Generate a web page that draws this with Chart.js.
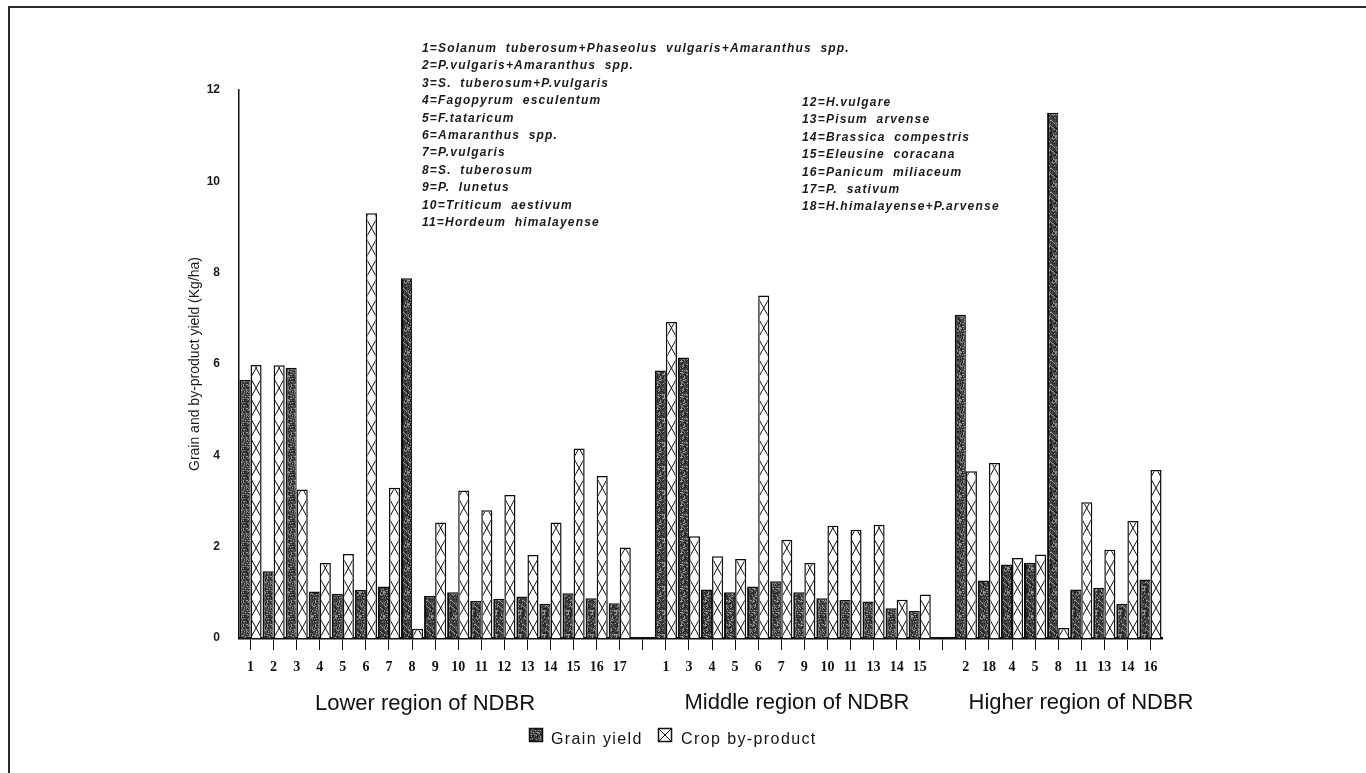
<!DOCTYPE html>
<html>
<head>
<meta charset="utf-8">
<title>Grain and by-product yield in NDBR</title>
<script src="https://cdn.jsdelivr.net/npm/chart.js@4.4.1/dist/chart.umd.min.js"></script>
<style>
  html, body { margin: 0; padding: 0; background: #fff; }
  canvas { display: block; }
</style>
</head>
<body>
<canvas id="chart" width="1366" height="773"></canvas>
<script>
// Crop codes shown under each bar pair, per altitude region
const lowerCrops  = ['1','2','3','4','5','6','7','8','9','10','11','12','13','14','15','16','17'];
const middleCrops = ['1','3','4','5','6','7','9','10','11','13','14','15'];
const higherCrops = ['2','18','4','5','8','11','13','14','16'];

// Grain yield per crop
const grainLower  = [5.65, 1.46, 5.92, 1.02, 0.97, 1.05, 1.13, 7.88, 0.92, 1.00, 0.81, 0.86, 0.91, 0.75, 0.98, 0.87, 0.76];
const grainMiddle = [5.86, 6.14, 1.06, 1.00, 1.13, 1.24, 1.00, 0.87, 0.83, 0.80, 0.65, 0.59];
const grainHigher = [7.08, 1.26, 1.61, 1.64, 11.5, 1.06, 1.10, 0.75, 1.28];

// Crop by-product per crop
const byLower  = [5.98, 5.97, 3.25, 1.64, 1.84, 9.30, 3.29, 0.20, 2.53, 3.23, 2.80, 3.13, 1.82, 2.53, 4.15, 3.55, 1.98];
const byMiddle = [6.92, 2.23, 1.79, 1.73, 7.50, 2.15, 1.64, 2.46, 2.37, 2.48, 0.84, 0.95];
const byHigher = [3.65, 3.83, 1.75, 1.83, 0.22, 2.97, 1.93, 2.56, 3.68];

// Y axis ticks
const yTicks = [0, 2, 4, 6, 8, 10, 12];

// Key to the crop codes
const keyLeft = [
  '1=Solanum tuberosum+Phaseolus vulgaris+Amaranthus spp.',
  '2=P.vulgaris+Amaranthus spp.',
  '3=S. tuberosum+P.vulgaris',
  '4=Fagopyrum esculentum',
  '5=F.tataricum',
  '6=Amaranthus spp.',
  '7=P.vulgaris',
  '8=S. tuberosum',
  '9=P. lunetus',
  '10=Triticum aestivum',
  '11=Hordeum himalayense'
];
const keyRight = [
  '12=H.vulgare',
  '13=Pisum arvense',
  '14=Brassica compestris',
  '15=Eleusine coracana',
  '16=Panicum miliaceum',
  '17=P. sativum',
  '18=H.himalayense+P.arvense'
];

const regionNames = ['Lower region of NDBR', 'Middle region of NDBR', 'Higher region of NDBR'];
const seriesNames = ['Grain yield', 'Crop by-product'];

// One empty slot separates the regions on the axis
const labels = [...lowerCrops, '', ...middleCrops, '', ...higherCrops];
const grain = [...grainLower, null, ...grainMiddle, null, ...grainHigher];
const byProduct = [...byLower, null, ...byMiddle, null, ...byHigher];

// Stippled dark fill for the grain bars
function makeStipple() {
  const c = document.createElement('canvas');
  c.width = 24; c.height = 24;
  const g = c.getContext('2d');
  g.fillStyle = '#4a4a4a';
  g.fillRect(0, 0, 24, 24);
  let s = 7;
  const next = () => { s = (s * 1103515245 + 12345) & 0x7fffffff; return s / 0x7fffffff; };
  for (let y = 0; y < 24; y++) {
    for (let x = 0; x < 24; x++) {
      const h = next();
      if (h < 0.3) { g.fillStyle = '#222222'; g.fillRect(x, y, 1, 1); }
      else if (h > 0.8) { g.fillStyle = '#9a9a9a'; g.fillRect(x, y, 1, 1); }
    }
  }
  return g.createPattern(c, 'repeat');
}
const ctx0 = document.getElementById('chart').getContext('2d');
const stipple = makeStipple();

const HATCH = 20; // vertical period of the cross hatch

const decorations = {
  id: 'decorations',
  afterDatasetsDraw(chart) {
    const ctx = chart.ctx;
    // cross hatch inside by-product bars
    const meta = chart.getDatasetMeta(1);
    meta.data.forEach((bar, i) => {
      if (byProduct[i] == null) return;
      const p = bar.getProps(['x', 'y', 'base', 'width'], true);
      const l = p.x - p.width / 2, r = p.x + p.width / 2;
      ctx.save();
      ctx.beginPath();
      ctx.rect(l + 1.5, p.y + 1.5, p.width - 3, p.base - p.y - 1.5);
      ctx.clip();
      ctx.beginPath();
      for (let yb = p.base; yb > p.y - HATCH; yb -= HATCH) {
        ctx.moveTo(l, yb); ctx.lineTo(r, yb - HATCH);
        ctx.moveTo(r, yb); ctx.lineTo(l, yb - HATCH);
      }
      ctx.strokeStyle = '#111';
      ctx.lineWidth = 1;
      ctx.stroke();
      ctx.restore();
    });
  },
  afterDraw(chart) {
    const ctx = chart.ctx;
    ctx.save();
    // page frame
    ctx.strokeStyle = '#2a2a2a';
    ctx.lineWidth = 2;
    ctx.beginPath();
    ctx.moveTo(9, 773); ctx.lineTo(9, 7); ctx.lineTo(1366, 7);
    ctx.stroke();

    // y axis title
    ctx.save();
    ctx.translate(195, 364);
    ctx.rotate(-Math.PI / 2);
    ctx.font = '14px "Liberation Sans", Arial, sans-serif';
    ctx.fillStyle = '#1a1a1a';
    ctx.textAlign = 'center';
    ctx.textBaseline = 'middle';
    ctx.fillText('Grain and by-product yield (Kg/ha)', 0, 0);
    ctx.restore();

    // crop key
    ctx.font = 'italic bold 12px "Liberation Sans", Arial, sans-serif';
    ctx.fillStyle = '#1a1a1a';
    ctx.textAlign = 'left';
    ctx.textBaseline = 'middle';
    ctx.letterSpacing = '1.2px';
    ctx.wordSpacing = '4px';
    keyLeft.forEach((t, i) => ctx.fillText(t, 422, 48.6 + i * 17.4));
    keyRight.forEach((t, i) => ctx.fillText(t, 802, 102.7 + i * 17.4));
    ctx.letterSpacing = '0px';
    ctx.wordSpacing = '0px';

    // region captions
    ctx.font = '22px "Liberation Sans", Arial, sans-serif';
    ctx.fillStyle = '#111';
    ctx.textAlign = 'center';
    ctx.fillText(regionNames[0], 425, 704);
    ctx.fillText(regionNames[1], 797, 703);
    ctx.fillText(regionNames[2], 1081, 703);

    // legend
    const by = 728, bs = 14;
    ctx.fillStyle = stipple;
    ctx.fillRect(529, by, bs, bs);
    ctx.strokeStyle = '#111';
    ctx.lineWidth = 1.5;
    ctx.strokeRect(529.5, by + 0.5, bs - 1, bs - 1);
    ctx.fillStyle = '#fff';
    ctx.fillRect(658, by, bs, bs);
    ctx.strokeRect(658.5, by + 0.5, bs - 1, bs - 1);
    ctx.lineWidth = 1;
    ctx.beginPath();
    ctx.moveTo(659, by + 1); ctx.lineTo(658 + bs - 1, by + bs - 1);
    ctx.moveTo(658 + bs - 1, by + 1); ctx.lineTo(659, by + bs - 1);
    ctx.stroke();
    ctx.font = '16px "Liberation Sans", Arial, sans-serif';
    ctx.fillStyle = '#111';
    ctx.textAlign = 'left';
    ctx.textBaseline = 'alphabetic';
    ctx.letterSpacing = '1.4px';
    ctx.fillText(seriesNames[0], 551, 744);
    ctx.fillText(seriesNames[1], 681, 744);
    ctx.letterSpacing = '0px';
    ctx.restore();
  }
};

new Chart(ctx0, {
  type: 'bar',
  data: {
    labels: labels,
    datasets: [
      {
        label: seriesNames[0],
        data: grain,
        backgroundColor: stipple,
        borderColor: '#0d0d0d',
        borderWidth: { left: 2, right: 1, top: 1.5, bottom: 0 },
        borderSkipped: 'bottom',
        categoryPercentage: 0.96,
        barPercentage: 1.0
      },
      {
        label: seriesNames[1],
        data: byProduct,
        backgroundColor: '#ffffff',
        borderColor: '#0d0d0d',
        borderWidth: { left: 1.5, right: 1.5, top: 1.5, bottom: 0 },
        borderSkipped: 'bottom',
        categoryPercentage: 0.96,
        barPercentage: 1.0
      }
    ]
  },
  options: {
    responsive: false,
    animation: false,
    events: [],
    layout: { padding: { top: 90, right: 204, left: 0, bottom: 0 } },
    plugins: {
      legend: { display: false },
      tooltip: { enabled: false },
      title: { display: false }
    },
    scales: {
      x: {
        offset: true,
        grid: {
          display: true,
          drawOnChartArea: false,
          drawTicks: true,
          tickLength: 12,
          color: '#111',
          lineWidth: 1,
          offset: false
        },
        border: { display: true, color: '#0d0d0d', width: 2.5 },
        ticks: {
          autoSkip: false,
          maxRotation: 0,
          minRotation: 0,
          padding: 9,
          color: '#111',
          font: { family: '"Liberation Serif", "Times New Roman", serif', size: 14, weight: 'bold' }
        },
        afterFit(scale) { scale.height = 135; }
      },
      y: {
        min: yTicks[0],
        max: yTicks[yTicks.length - 1],
        grid: { display: false },
        border: { display: true, color: '#111', width: 1.5 },
        afterBuildTicks(scale) { scale.ticks = yTicks.map(v => ({ value: v })); },
        ticks: {
          padding: 11,
          color: '#1a1a1a',
          font: { family: '"Liberation Sans", Arial, sans-serif', size: 12, weight: 'bold' }
        },
        afterFit(scale) { scale.width = 239; }
      }
    }
  },
  plugins: [decorations]
});
</script>
</body>
</html>
